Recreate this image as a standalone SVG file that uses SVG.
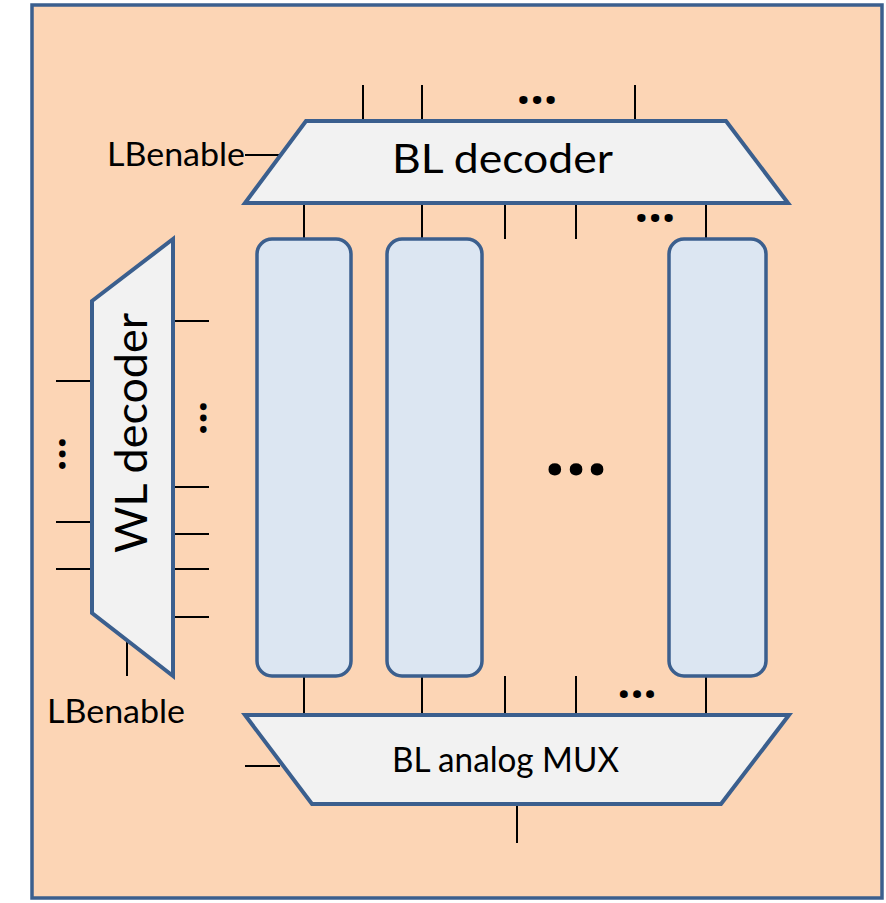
<svg xmlns="http://www.w3.org/2000/svg" width="886" height="903" viewBox="0 0 886 903">
  <style>
    .frame { fill: #FCD5B5; stroke: #3B5F8E; stroke-width: 3.5; }
    .trap { fill: #F2F2F2; stroke: #3B5F8E; stroke-width: 4; stroke-linejoin: miter; }
    .col { fill: #DCE6F2; stroke: #3B5F8E; stroke-width: 3.5; }
    .pin { stroke: #000; stroke-width: 2; fill: none; }
    .lbl { font-family: Lato, "Liberation Sans", sans-serif; fill: #000; }
    .dots { font-family: "Open Sans", "Liberation Sans", sans-serif; fill: #000; text-anchor: middle; }
  </style>
  <rect id="frame" class="frame" x="32" y="5" width="850" height="893"/>

  <g id="connectors">
    <!-- BL decoder top inputs -->
    <line class="pin" x1="363" y1="85" x2="363" y2="121"/>
    <line class="pin" x1="422" y1="85" x2="422" y2="121"/>
    <line class="pin" x1="635" y1="85" x2="635" y2="121"/>
    <!-- LBenable to BL decoder -->
    <line class="pin" x1="245" y1="155" x2="280" y2="155"/>
    <!-- BL decoder bottom outputs -->
    <line class="pin" x1="304" y1="203" x2="304" y2="239"/>
    <line class="pin" x1="422" y1="203" x2="422" y2="239"/>
    <line class="pin" x1="505" y1="203" x2="505" y2="239"/>
    <line class="pin" x1="576" y1="203" x2="576" y2="239"/>
    <line class="pin" x1="706" y1="203" x2="706" y2="239"/>
    <!-- columns to MUX -->
    <line class="pin" x1="304" y1="676" x2="304" y2="714"/>
    <line class="pin" x1="422" y1="676" x2="422" y2="714"/>
    <line class="pin" x1="505" y1="676" x2="505" y2="714"/>
    <line class="pin" x1="576" y1="676" x2="576" y2="714"/>
    <line class="pin" x1="706" y1="676" x2="706" y2="714"/>
    <!-- MUX side and output -->
    <line class="pin" x1="245" y1="766" x2="280" y2="766"/>
    <line class="pin" x1="517" y1="804" x2="517" y2="843"/>
    <!-- WL decoder left inputs -->
    <line class="pin" x1="56" y1="381" x2="92" y2="381"/>
    <line class="pin" x1="56" y1="522" x2="92" y2="522"/>
    <line class="pin" x1="56" y1="569" x2="92" y2="569"/>
    <!-- WL decoder right outputs -->
    <line class="pin" x1="173" y1="321" x2="209" y2="321"/>
    <line class="pin" x1="173" y1="487" x2="209" y2="487"/>
    <line class="pin" x1="173" y1="534" x2="209" y2="534"/>
    <line class="pin" x1="173" y1="569" x2="209" y2="569"/>
    <line class="pin" x1="173" y1="617" x2="209" y2="617"/>
    <!-- WL decoder LBenable -->
    <line class="pin" x1="127" y1="640" x2="127" y2="676"/>
  </g>

  <g id="bl-decoder">
    <polygon class="trap" points="306,121 726,121 788,203 245,203"/>
    <text class="lbl" x="392" y="173" font-size="40" textLength="221" lengthAdjust="spacingAndGlyphs">BL decoder</text>
  </g>

  <g id="bl-mux">
    <polygon class="trap" points="245,715 789,715 721,804 312,804"/>
    <text class="lbl" x="392" y="772" font-size="34" textLength="227" lengthAdjust="spacingAndGlyphs">BL analog MUX</text>
  </g>

  <g id="wl-decoder">
    <polygon class="trap" points="92,301 173,239 173,676 92,613"/>
    <text class="lbl" x="147" y="553" font-size="44" textLength="240" lengthAdjust="spacingAndGlyphs" transform="rotate(-90 147 553)">WL decoder</text>
  </g>

  <g id="col-1"><rect class="col" x="257" y="239" width="94" height="437" rx="15"/></g>
  <g id="col-2"><rect class="col" x="387" y="239" width="95" height="437" rx="15"/></g>
  <g id="col-n"><rect class="col" x="669" y="239" width="97" height="437" rx="15"/></g>

  <g id="lbenable-top"><text class="lbl" x="107" y="166" font-size="32" textLength="138" lengthAdjust="spacingAndGlyphs">LBenable</text></g>
  <g id="lbenable-bottom"><text class="lbl" x="47" y="723" font-size="32" textLength="138" lengthAdjust="spacingAndGlyphs">LBenable</text></g>

  <g id="ellipses">
    <text class="dots" x="537" y="104" font-size="48" font-weight="bold">...</text>
    <text class="dots" x="655" y="222" font-size="48" font-weight="bold">...</text>
    <text class="dots" x="637" y="698" font-size="46" font-weight="bold">...</text>
    <text class="dots" x="576" y="475" font-size="74" font-weight="bold">...</text>
    <text class="dots" x="202" y="420" font-size="40" font-weight="bold" transform="rotate(90 202 418)">...</text>
    <text class="dots" x="61" y="456" font-size="40" font-weight="bold" transform="rotate(90 61 454)">...</text>
  </g>
</svg>
